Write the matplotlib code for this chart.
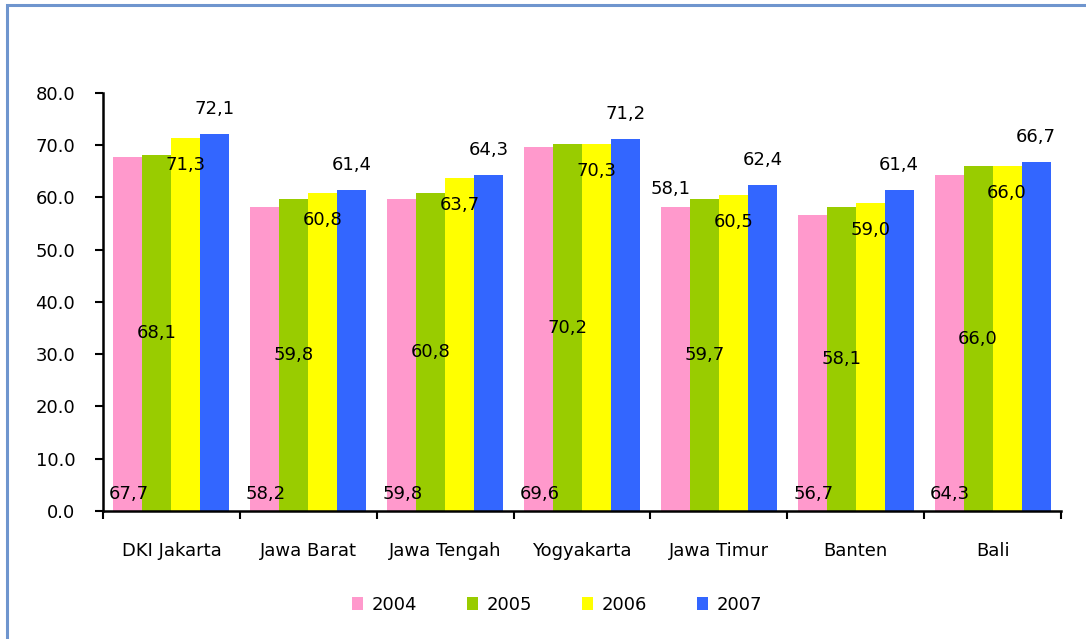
import matplotlib.pyplot as plt
from matplotlib.patches import Rectangle
import numpy as np

# data
provinces = ['DKI Jakarta', 'Jawa Barat', 'Jawa Tengah', 'Yogyakarta',
             'Jawa Timur', 'Banten', 'Bali']
years = ['2004', '2005', '2006', '2007']
v2004 = [67.7, 58.2, 59.8, 69.6, 58.1, 56.7, 64.3]
v2005 = [68.1, 59.8, 60.8, 70.2, 59.7, 58.1, 66.0]
v2006 = [71.3, 60.8, 63.7, 70.3, 60.5, 59.0, 66.0]
v2007 = [72.1, 61.4, 64.3, 71.2, 62.4, 61.4, 66.7]
yticks = [0, 10, 20, 30, 40, 50, 60, 70, 80]

series = [v2004, v2005, v2006, v2007]
colors = ['#FF99CC', '#99CC00', '#FFFF00', '#3366FF']
# where the data label goes for each series (mimics the original Excel chart)
label_modes = ['base', 'center', 'inside_end', 'outside_end']

plt.rcParams['font.family'] = 'DejaVu Sans'
plt.rcParams['font.size'] = 13

fig = plt.figure(figsize=(10.86, 6.39), dpi=100)
ax = fig.add_axes([0.0948, 0.2003, 0.977 - 0.0948, 0.8545 - 0.2003])

# blue frame around the chart
fig.patches.append(Rectangle((7 / 1086, -0.05), 1.2, 1 - 5 / 639 + 0.05,
                             transform=fig.transFigure, fill=False,
                             edgecolor='#6F95CE', linewidth=2.2))

n = len(provinces)
x = np.arange(n)
bw = 0.212
offsets = (np.arange(4) - 1.5) * bw

for i, (vals, col, mode) in enumerate(zip(series, colors, label_modes)):
    xs = x + offsets[i]
    ax.bar(xs, vals, width=bw, color=col, edgecolor='none', label=years[i])
    for j, (xx, v) in enumerate(zip(xs, vals)):
        txt = f'{v:.1f}'.replace('.', ',')
        m = mode
        if i == 0 and provinces[j] == 'Jawa Timur':
            m = 'outside_end_low'
        if m == 'base':
            ax.annotate(txt, (xx, 0), xytext=(1, 17), textcoords='offset pixels',
                        ha='center', va='center')
        elif m == 'center':
            ax.text(xx, v / 2, txt, ha='center', va='center')
        elif m == 'inside_end':
            ax.annotate(txt, (xx, v), xytext=(0, -27), textcoords='offset pixels',
                        ha='center', va='center')
        elif m == 'outside_end':
            ax.annotate(txt, (xx, v), xytext=(0, 25), textcoords='offset pixels',
                        ha='center', va='center')
        else:
            ax.annotate(txt, (xx, v), xytext=(-5, 18), textcoords='offset pixels',
                        ha='center', va='center')

ax.set_xlim(-0.5, n - 0.5)
ax.set_ylim(0, 80)
ax.set_yticks(yticks)
ax.set_yticklabels([f'{t:.1f}' for t in yticks])
ax.set_xticks(x)
ax.set_xticklabels(provinces)
ax.set_xticks(np.arange(n + 1) - 0.5, minor=True)
ax.tick_params(axis='x', which='major', length=0, pad=22)
ax.tick_params(axis='x', which='minor', length=6, width=1.5, direction='out')
ax.tick_params(axis='y', length=6, width=1.5, direction='out', pad=14)

for s in ['top', 'right']:
    ax.spines[s].set_visible(False)
for s in ['left', 'bottom']:
    ax.spines[s].set_linewidth(1.8)

fig.legend(loc='center', bbox_to_anchor=(0.513, 1 - 605 / 639), ncol=4,
           frameon=False, handlelength=0.6, handleheight=0.7,
           handletextpad=0.5, columnspacing=2.75)

fig.savefig('out.png', dpi=100)
